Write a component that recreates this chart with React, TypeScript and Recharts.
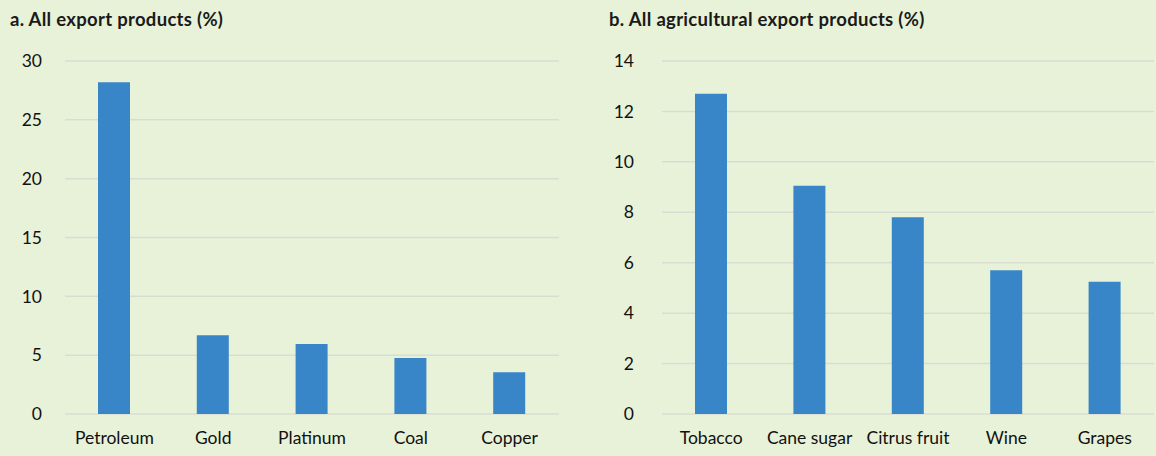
import React from "react"
import { BarChart, Bar, XAxis, YAxis, CartesianGrid } from "recharts"

const exportProducts = ["Petroleum", "Gold", "Platinum", "Coal", "Copper"]
const exportShares = [28.2, 6.7, 5.95, 4.75, 3.55]
const exportTicks = [0, 5, 10, 15, 20, 25, 30]

const agriProducts = ["Tobacco", "Cane sugar", "Citrus fruit", "Wine", "Grapes"]
const agriShares = [12.7, 9.05, 7.8, 5.7, 5.25]
const agriTicks = [0, 2, 4, 6, 8, 10, 12, 14]

const BG = "#e8f2d8"
const BAR = "#3886c8"
const GRID = "#d8ddd3"
const FONT = "Lato, 'Open Sans', sans-serif"

const tickStyle = { fill: "#111", fontSize: 17.5, fontFamily: FONT }

interface PanelProps {
  title: string
  names: string[]
  values: number[]
  ticks: number[]
  left: number
  yWidth: number
  yMargin: number
  rightMargin: number
  titleX: number
}

function Panel({ title, names, values, ticks, left, yWidth, yMargin, rightMargin, titleX }: PanelProps) {
  const data = names.map((name, i) => ({ name, value: values[i] }))
  return (
    <div style={{ position: "absolute", left, top: 0, width: 578, height: 456 }}>
      <div
        style={{
          position: "absolute",
          left: titleX,
          top: 8,
          fontFamily: FONT,
          fontWeight: 700,
          fontSize: 18.5,
          letterSpacing: 0.3,
          color: "#1a1a1a",
          whiteSpace: "nowrap",
        }}
      >
        {title}
      </div>
      <BarChart width={578} height={456} data={data} margin={{ top: 61, right: rightMargin, bottom: 12, left: 0 }}>
        <CartesianGrid vertical={false} stroke={GRID} strokeWidth={1.5} />
        <XAxis
          dataKey="name"
          axisLine={false}
          tickLine={false}
          tickSize={0}
          tickMargin={18}
          height={30}
          tick={tickStyle}
          interval={0}
        />
        <YAxis
          width={yWidth}
          domain={[0, ticks[ticks.length - 1]]}
          ticks={ticks}
          axisLine={false}
          tickLine={false}
          tickSize={0}
          tickMargin={yMargin}
          tick={tickStyle}
          interval={0}
        />
        <Bar dataKey="value" fill={BAR} barSize={32} isAnimationActive={false} />
      </BarChart>
    </div>
  )
}

export default function App() {
  return (
    <div style={{ position: "fixed", left: 0, top: 0, width: 1156, height: 456, background: BG, overflow: "hidden" }}>
      <Panel
        title="a. All export products (%)"
        names={exportProducts}
        values={exportShares}
        ticks={exportTicks}
        left={0}
        yWidth={65}
        yMargin={23}
        rightMargin={19}
        titleX={10}
      />
      <Panel
        title="b. All agricultural export products (%)"
        names={agriProducts}
        values={agriShares}
        ticks={agriTicks}
        left={578}
        yWidth={84}
        yMargin={28}
        rightMargin={2}
        titleX={31}
      />
    </div>
  )
}
